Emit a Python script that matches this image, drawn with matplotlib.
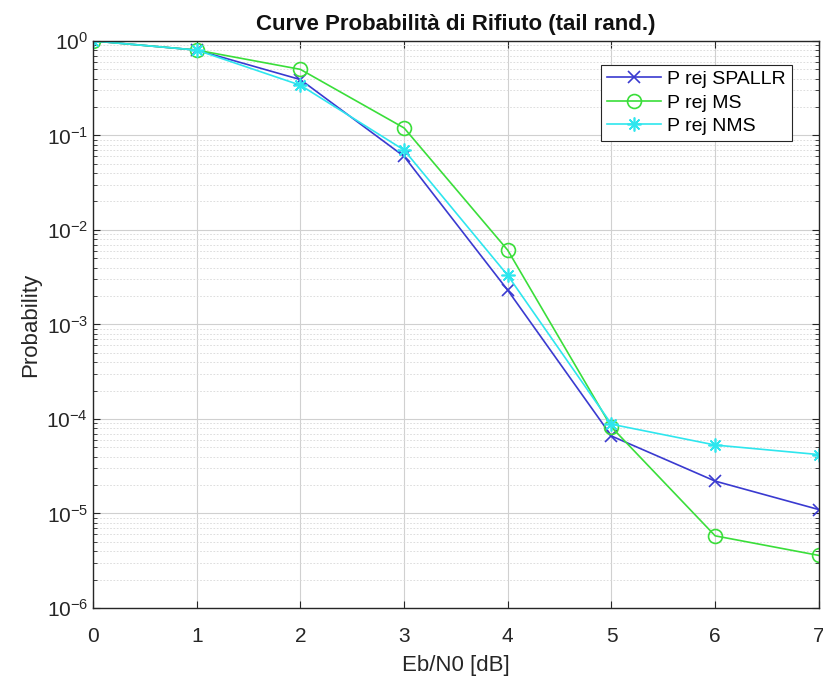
import numpy as np
import matplotlib
matplotlib.use('Agg')
from matplotlib import pyplot as plt
from matplotlib.ticker import LogLocator, NullFormatter

plt.rcParams['font.family'] = ['Liberation Sans', 'DejaVu Sans']

# Dati
ebn0 = [0, 1, 2, 3, 4, 5, 6, 7]
p_spallr = [1.0, 0.80, 0.39, 0.060, 0.0023, 6.6e-5, 2.2e-5, 1.1e-5]
p_ms = [1.0, 0.80, 0.50, 0.12, 0.0061, 8.2e-5, 5.8e-6, 3.6e-6]
p_nms = [1.0, 0.80, 0.34, 0.070, 0.0033, 8.8e-5, 5.3e-5, 4.2e-5]

fig = plt.figure(figsize=(8.23, 6.82), dpi=100)
ax = fig.add_axes([0.113, 0.1085, 0.882, 0.8315])

ax.semilogy(ebn0, p_spallr, '-x', color='#3a3ad0', lw=1.2, ms=8, mew=1.2, label='P rej SPALLR')
ax.semilogy(ebn0, p_ms, '-o', color='#3ade3a', lw=1.2, ms=10, mfc='none', mew=1.2, label='P rej MS')
ax.semilogy(ebn0, p_nms, '-', marker=(8, 2, 0), color='#2ee6ee', lw=1.2, ms=10, mew=1.2, label='P rej NMS')

ax.set_xlim(0, 7)
ax.set_ylim(1e-6, 1)
ax.set_xticks(ebn0)
ax.yaxis.set_major_locator(LogLocator(base=10, numticks=10))
ax.yaxis.set_minor_locator(LogLocator(base=10, subs=np.arange(2, 10), numticks=20))
ax.yaxis.set_minor_formatter(NullFormatter())

#Griglia stile MATLAB
ax.grid(True, which='major', color='#d0d0d0', lw=0.8)
ax.grid(True, which='minor', axis='y', color='#d8d8d8', lw=0.6, ls=(0, (2, 2)))
ax.set_axisbelow(True)

for s in ax.spines.values():
    s.set_color('#262626')
    s.set_linewidth(1.0)
ax.tick_params(which='both', direction='in', top=True, right=True, colors='#262626', labelsize=15, labelcolor='#262626')
ax.tick_params(which='major', length=5)
ax.tick_params(which='minor', length=3)
ax.tick_params(axis='x', pad=14)

ax.set_xlabel('Eb/N0 [dB]', fontsize=16, color='#262626', labelpad=6)
ax.set_ylabel('Probability', fontsize=16, color='#262626')
ax.set_title('Curve Probabilità di Rifiuto (tail rand.)', fontsize=16, fontweight='bold', color='#111111', pad=8)

leg = ax.legend(loc='upper right', bbox_to_anchor=(0.976, 0.975), fontsize=14, fancybox=False,
                framealpha=1, edgecolor='#262626', handlelength=2.8, borderpad=0.3, labelspacing=0.3,
                handletextpad=0.3)
leg.get_frame().set_linewidth(0.8)

fig.savefig('out.png', dpi=100)
